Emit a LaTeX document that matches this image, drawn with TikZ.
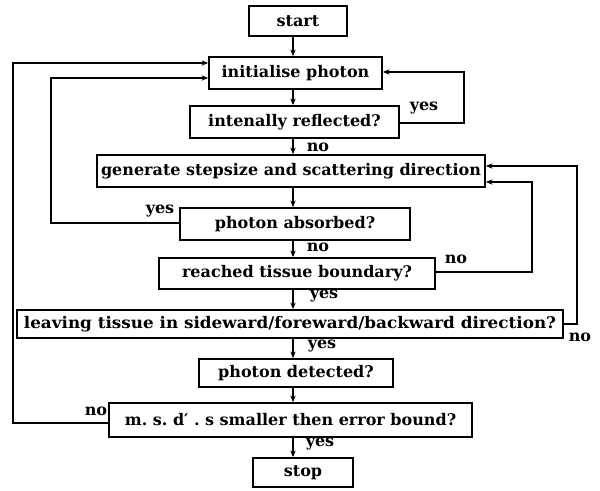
\documentclass[tikz,border=0pt]{standalone}
\usepackage{fontspec}
\setmainfont{DejaVu Serif}
\usetikzlibrary{arrows.meta}
\begin{document}
\begin{tikzpicture}[x=0.75pt,y=-0.75pt,
  box/.style={draw,line width=1.3pt,inner sep=0pt,font=\fontsize{12}{14}\selectfont\bfseries},
  conn/.style={line width=1pt},
  arr/.style={line width=1pt,-{Stealth[length=5pt,width=4pt]}},
  lab/.style={inner sep=0pt,font=\fontsize{12}{14}\selectfont\bfseries}]
\useasboundingbox (0,0) rectangle (600,491);
\coordinate (axis) at (293,0);
\node[box,minimum width=73.5pt,minimum height=22.5pt] (start) at (298,21) {start};
\node[box,minimum width=129.75pt,minimum height=24pt] (init) at (295.5,73) {initialise photon};
\node[box,minimum width=156.75pt,minimum height=24pt] (refl) at (294.5,122) {intenally reflected?};
\node[box,minimum width=291pt,minimum height=24pt] (gen) at (291,171) {generate stepsize and scattering direction};
\node[box,minimum width=172.5pt,minimum height=24pt] (abs) at (295,224) {photon absorbed?};
\node[box,minimum width=207pt,minimum height=23.25pt] (reach) at (297,273.5) {reached tissue boundary?};
\node[box,minimum width=409.5pt,minimum height=21pt] (leave) at (290,324) {\scalebox{1.05}[1]{leaving tissue in sideward/foreward/backward direction?}};
\node[box,minimum width=145.5pt,minimum height=21pt] (det) at (296,373) {photon detected?};
\node[box,minimum width=272.25pt,minimum height=25.5pt] (msd) at (290.5,420) {\frenchspacing m. s. d′ . s smaller then error bound?};
\node[box,minimum width=75pt,minimum height=21.75pt] (stop) at (303,472.5) {stop};
% vertical connectors
\draw[arr] (start.south -| axis) -- (init.north -| axis);
\draw[arr] (init.south -| axis) -- (refl.north -| axis);
\draw[arr] (refl.south -| axis) -- (gen.north -| axis);
\draw[arr] (gen.south -| axis) -- (abs.north -| axis);
\draw[arr] (abs.south -| axis) -- (reach.north -| axis);
\draw[arr] (reach.south -| axis) -- (leave.north -| axis);
\draw[arr] (leave.south -| axis) -- (det.north -| axis);
\draw[arr] (det.south -| axis) -- (msd.north -| axis);
\draw[arr] (msd.south -| axis) -- (stop.north -| axis);
% loops
\coordinate (rA) at (464,123);
\coordinate (rB) at (464,72);
\draw[arr] (refl.east |- rA) -- (rA) -- (rB) -- (init.east |- rB);
\coordinate (aA) at (51,223);
\coordinate (aB) at (51,78);
\draw[arr] (abs.west |- aA) -- (aA) -- (aB) -- (init.west |- aB);
\coordinate (bA) at (532,272);
\coordinate (bB) at (532,182);
\draw[arr] (reach.east |- bA) -- (bA) -- (bB) -- (gen.east |- bB);
\coordinate (cA) at (577,324);
\coordinate (cB) at (577,166);
\draw[arr] (leave.east |- cA) -- (cA) -- (cB) -- (gen.east |- cB);
\coordinate (dA) at (13,423);
\coordinate (dB) at (13,63);
\draw[arr] (msd.west |- dA) -- (dA) -- (dB) -- (init.west |- dB);
% labels
\node[lab] (l1) at (424,108) {yes};
\node[lab] (l2) at (318,147) {no};
\node[lab] (l3) at (160,211) {yes};
\node[lab] (l4) at (318,247) {no};
\node[lab] (l5) at (456,259) {no};
\node[lab] (l6) at (324,296) {yes};
\node[lab] (l7) at (580,337) {no};
\node[lab] (l8) at (322,346) {yes};
\node[lab] (l9) at (96,411) {no};
\node[lab] (l10) at (320,444) {yes};
\end{tikzpicture}
\end{document}
